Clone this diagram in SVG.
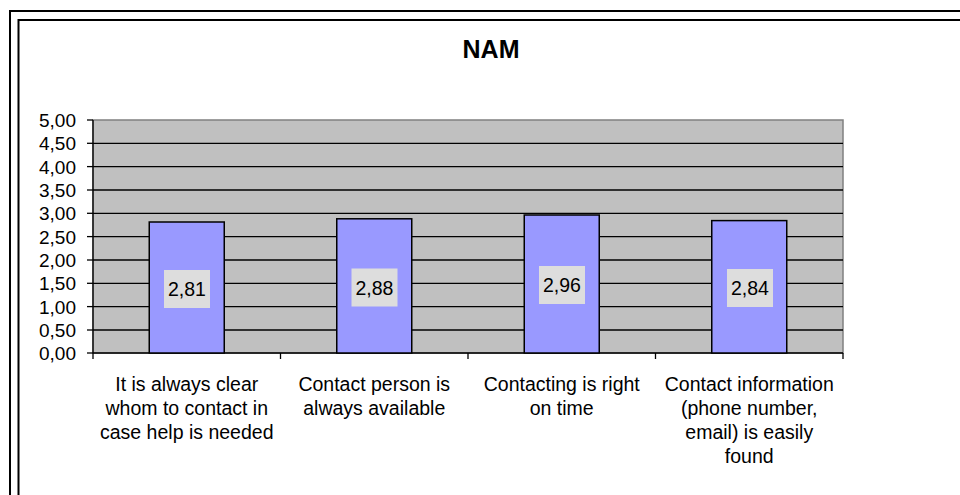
<svg xmlns="http://www.w3.org/2000/svg" width="960" height="495" viewBox="0 0 960 495">
<style>
text{font-family:"Liberation Sans",Arial,sans-serif;fill:#000}
.ax{font-size:19px;text-anchor:end}
.cat{font-size:19.5px;text-anchor:middle}
.val{font-size:19.5px;text-anchor:middle}
.grid{stroke:#000;stroke-width:1.3}
.bar{fill:#9999FF;stroke:#000;stroke-width:1.5}
.lbl{fill:#DDDDDD}
.tick{stroke:#000;stroke-width:1.3}
</style>
<rect x="0" y="0" width="960" height="495" fill="#fff"/>
<g id="frame" fill="none">
<rect x="10" y="11" width="980" height="520" stroke="#000" stroke-width="2"/>
<rect x="18.5" y="20" width="980" height="520" stroke="#000" stroke-width="2"/>
</g>
<text id="title" x="491" y="58" font-size="25" font-weight="bold" text-anchor="middle">NAM</text>
<g id="plot">
<rect x="93" y="120" width="750" height="233" fill="#C0C0C0" stroke="#808080" stroke-width="1.5"/>
<g class="grid">
<line x1="93" y1="143.3" x2="843" y2="143.3"/>
<line x1="93" y1="166.6" x2="843" y2="166.6"/>
<line x1="93" y1="190" x2="843" y2="190"/>
<line x1="93" y1="213.3" x2="843" y2="213.3"/>
<line x1="93" y1="236.6" x2="843" y2="236.6"/>
<line x1="93" y1="260" x2="843" y2="260"/>
<line x1="93" y1="283.3" x2="843" y2="283.3"/>
<line x1="93" y1="306.6" x2="843" y2="306.6"/>
<line x1="93" y1="330" x2="843" y2="330"/>
</g>
<g class="tick">
<line x1="93" y1="120" x2="93" y2="353"/>
<line x1="93" y1="353" x2="843" y2="353"/>
<line x1="87" y1="120" x2="93" y2="120"/>
<line x1="87" y1="143.3" x2="93" y2="143.3"/>
<line x1="87" y1="166.6" x2="93" y2="166.6"/>
<line x1="87" y1="190" x2="93" y2="190"/>
<line x1="87" y1="213.3" x2="93" y2="213.3"/>
<line x1="87" y1="236.6" x2="93" y2="236.6"/>
<line x1="87" y1="260" x2="93" y2="260"/>
<line x1="87" y1="283.3" x2="93" y2="283.3"/>
<line x1="87" y1="306.6" x2="93" y2="306.6"/>
<line x1="87" y1="330" x2="93" y2="330"/>
<line x1="87" y1="353" x2="93" y2="353"/>
<line x1="93" y1="353" x2="93" y2="359"/>
<line x1="280.5" y1="353" x2="280.5" y2="359"/>
<line x1="468" y1="353" x2="468" y2="359"/>
<line x1="655.5" y1="353" x2="655.5" y2="359"/>
<line x1="843" y1="353" x2="843" y2="359"/>
</g>
<g id="yaxis">
<text class="ax" x="76" y="127">5,00</text>
<text class="ax" x="76" y="150.3">4,50</text>
<text class="ax" x="76" y="173.6">4,00</text>
<text class="ax" x="76" y="197">3,50</text>
<text class="ax" x="76" y="220.3">3,00</text>
<text class="ax" x="76" y="243.6">2,50</text>
<text class="ax" x="76" y="267">2,00</text>
<text class="ax" x="76" y="290.3">1,50</text>
<text class="ax" x="76" y="313.6">1,00</text>
<text class="ax" x="76" y="337">0,50</text>
<text class="ax" x="76" y="360">0,00</text>
</g>
</g>
<g id="bar1">
<rect class="bar" x="149.25" y="222" width="75" height="131"/>
<rect class="lbl" x="164" y="270" width="46" height="38"/>
<text class="val" x="187" y="296">2,81</text>
</g>
<g id="bar2">
<rect class="bar" x="336.75" y="218.8" width="75" height="134.2"/>
<rect class="lbl" x="351.5" y="268.5" width="46" height="38"/>
<text class="val" x="374.5" y="294.5">2,88</text>
</g>
<g id="bar3">
<rect class="bar" x="524.25" y="215" width="75" height="138"/>
<rect class="lbl" x="539" y="266" width="46" height="38"/>
<text class="val" x="562" y="292">2,96</text>
</g>
<g id="bar4">
<rect class="bar" x="711.75" y="220.6" width="75" height="132.4"/>
<rect class="lbl" x="727" y="269" width="46" height="38"/>
<text class="val" x="750" y="295">2,84</text>
</g>
<g id="categories">
<text class="cat" x="186.75" y="391">It is always clear</text>
<text class="cat" x="186.75" y="415">whom to contact in</text>
<text class="cat" x="186.75" y="439">case help is needed</text>
<text class="cat" x="374.25" y="391">Contact person is</text>
<text class="cat" x="374.25" y="415">always available</text>
<text class="cat" x="561.75" y="391">Contacting is right</text>
<text class="cat" x="561.75" y="415">on time</text>
<text class="cat" x="749.25" y="391">Contact information</text>
<text class="cat" x="749.25" y="415">(phone number,</text>
<text class="cat" x="749.25" y="439">email) is easily</text>
<text class="cat" x="749.25" y="463">found</text>
</g>
</svg>
